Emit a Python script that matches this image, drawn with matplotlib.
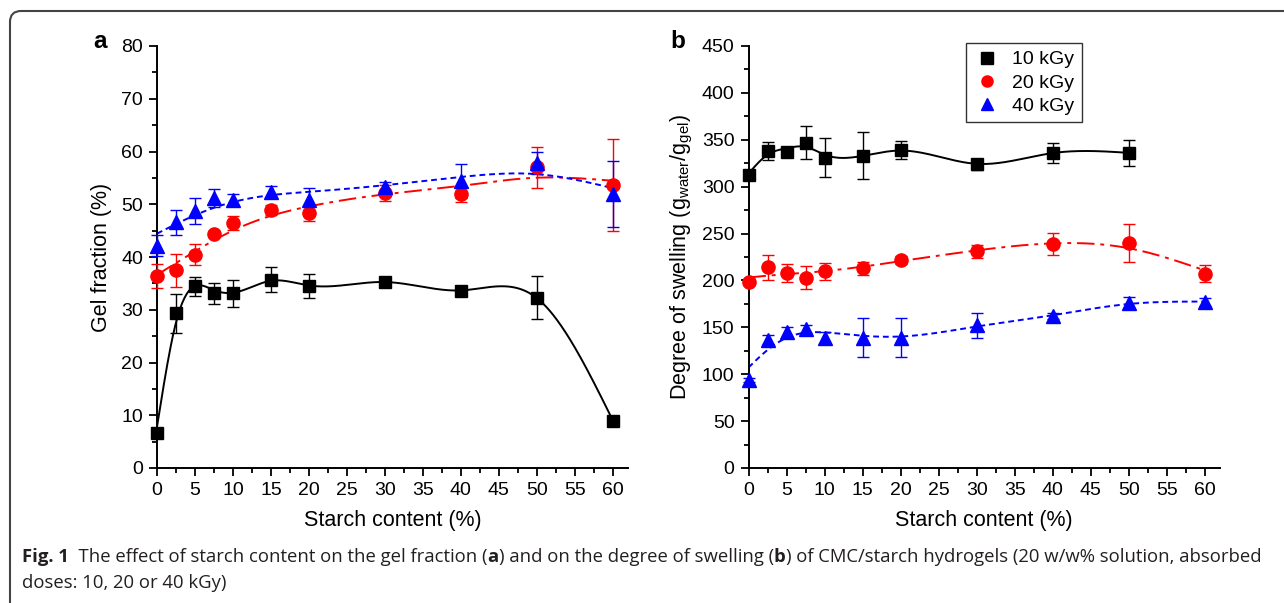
import numpy as np
import matplotlib
matplotlib.use("Agg")
import matplotlib.pyplot as plt
from matplotlib.patches import FancyBboxPatch
from matplotlib.transforms import IdentityTransform
from matplotlib.ticker import MultipleLocator
from matplotlib.lines import Line2D

plt.rcParams['font.family'] = ['Liberation Sans', 'DejaVu Sans']

# starch content (%)
starch = [0, 2.5, 5, 7.5, 10, 15, 20, 30, 40, 50, 60]
starch_b10 = [0, 2.5, 5, 7.5, 10, 15, 20, 30, 40, 50]

# (a) gel fraction (%)
gel_10 = [6.7, 29.3, 34.5, 33.1, 33.1, 35.7, 34.5, 35.3, 33.6, 32.3, 9.0]
gel_10_err = [0.3, 3.7, 1.8, 2.0, 2.6, 2.4, 2.3, 0.3, 0.5, 4.1, 0.3]
gel_20 = [36.4, 37.5, 40.4, 44.4, 46.4, 48.9, 48.3, 52.2, 51.9, 57.0, 53.6]
gel_20_err = [2.2, 3.1, 2.0, 0.5, 1.3, 1.0, 1.4, 1.5, 1.5, 3.9, 8.7]
gel_40 = [42.1, 46.6, 48.7, 51.1, 50.9, 52.3, 50.8, 53.3, 54.4, 57.9, 51.9]
gel_40_err = [2.0, 2.4, 2.4, 1.7, 1.0, 1.2, 2.3, 1.0, 3.3, 2.1, 6.3]

# (b) degree of swelling (g water / g gel)
sw_10 = [312, 338, 337, 347, 331, 333, 339, 324, 336, 336]
sw_10_err = [3, 10, 5, 18, 21, 25, 10, 6, 11, 14]
sw_20 = [198, 214, 208, 203, 210, 213, 222, 231, 239, 240, 207]
sw_20_err = [3, 13, 10, 12, 9, 7, 4, 7, 12, 20, 9]
sw_40 = [94, 137, 145, 148, 139, 139, 139, 152, 162, 176, 177]
sw_40_err = [2, 5, 5, 4, 6, 21, 21, 13, 3, 6, 4]

labels = ['10 kGy', '20 kGy', '40 kGy']


def smooth_spline(x, y, alpha, n=400):
    # Reinsch smoothing spline (natural cubic), alpha = smoothing weight
    x = np.asarray(x, float)
    y = np.asarray(y, float)
    m = len(x)
    h = np.diff(x)
    Q = np.zeros((m, m - 2))
    R = np.zeros((m - 2, m - 2))
    for j in range(1, m - 1):
        Q[j - 1, j - 1] = 1 / h[j - 1]
        Q[j, j - 1] = -1 / h[j - 1] - 1 / h[j]
        Q[j + 1, j - 1] = 1 / h[j]
        R[j - 1, j - 1] = (h[j - 1] + h[j]) / 3
        if j < m - 2:
            R[j - 1, j] = h[j] / 6
            R[j, j - 1] = h[j] / 6
    gam = np.linalg.solve(R + alpha * Q.T @ Q, Q.T @ y)
    g = y - alpha * Q @ gam
    gam = np.concatenate([[0], gam, [0]])
    xs = np.linspace(x[0], x[-1], n)
    idx = np.clip(np.searchsorted(x, xs) - 1, 0, m - 2)
    xl, xr, hh = x[idx], x[idx + 1], h[idx]
    ys = ((xs - xl) * g[idx + 1] + (xr - xs) * g[idx]) / hh \
        - (xs - xl) * (xr - xs) / 6 * ((1 + (xs - xl) / hh) * gam[idx + 1]
                                      + (1 + (xr - xs) / hh) * gam[idx])
    return xs, ys


W, H = 1284, 603
fig = plt.figure(figsize=(W / 100, H / 100), dpi=100)
ax1 = fig.add_axes([157 / W, 135 / H, 471 / W, 422 / H])
ax2 = fig.add_axes([748.5 / W, 135 / H, 471.5 / W, 422 / H])

styles = [
    dict(color='black', marker='s', ms=8, ls='-', dashes=None),
    dict(color='#ff0000', marker='o', ms=9.5, ls='-.', dashes=(9, 3, 2, 3)),
    dict(color='#0000ff', marker='^', ms=10, ls='--', dashes=(3, 2)),
]

panel_a = [(starch, gel_10, gel_10_err, 1.0),
           (starch, gel_20, gel_20_err, 250.0),
           (starch, gel_40, gel_40_err, 250.0)]
panel_b = [(starch_b10, sw_10, sw_10_err, 1.5),
           (starch, sw_20, sw_20_err, 150.0),
           (starch, sw_40, sw_40_err, 30.0)]

for ax, series in [(ax1, panel_a), (ax2, panel_b)]:
    for (x, y, e, a), st in zip(series, styles):
        xs, ys = smooth_spline(x, y, a)
        ln, = ax.plot(xs, ys, color=st['color'], lw=1.4, ls=st['ls'], zorder=2)
        if st['dashes']:
            ln.set_dashes(st['dashes'])
        ax.errorbar(x, y, yerr=e, fmt=st['marker'], ms=st['ms'], color=st['color'],
                    ecolor=st['color'], elinewidth=1, capsize=4, capthick=1,
                    zorder=3, clip_on=False)
    ax.spines['top'].set_visible(False)
    ax.spines['right'].set_visible(False)
    for s in ['left', 'bottom']:
        ax.spines[s].set_linewidth(1.4)
    ax.set_xlim(0, 62)
    ax.xaxis.set_major_locator(MultipleLocator(5))
    ax.xaxis.set_minor_locator(MultipleLocator(2.5))
    ax.set_xticks(np.arange(0, 61, 5))
    ax.tick_params(which='major', direction='out', length=6, width=1.3, labelsize=14,
                   pad=4)
    ax.tick_params(which='minor', direction='out', length=3.5, width=1.3)
    ax.set_xlabel('Starch content (%)', fontsize=15.5, labelpad=8)

ax1.set_ylim(0, 80)
ax1.yaxis.set_major_locator(MultipleLocator(10))
ax1.yaxis.set_minor_locator(MultipleLocator(5))
ax1.set_ylabel('Gel fraction (%)', fontsize=15.5, labelpad=7)

ax2.set_ylim(0, 450)
ax2.yaxis.set_major_locator(MultipleLocator(50))
ax2.yaxis.set_minor_locator(MultipleLocator(25))
ax2.set_ylabel('Degree of swelling (g$_\\mathregular{water}$/g$_\\mathregular{gel}$)',
               fontsize=15.5, labelpad=5)

handles = [Line2D([], [], ls='none', marker=st['marker'], color=st['color'], ms=8)
           for st in styles]
leg = ax2.legend(handles, labels, loc='upper left', bbox_to_anchor=(0.44, 1.03),
                 fontsize=14, frameon=True, fancybox=False, edgecolor='black',
                 handletextpad=0.6, borderpad=0.4, labelspacing=0.28, handlelength=1.4)
leg.get_frame().set_linewidth(1.0)

fig.text(100 / W, 1 - 42 / H, 'a', fontsize=17.5, fontweight='bold', ha='center', va='center')
fig.text(678 / W, 1 - 42 / H, 'b', fontsize=17.5, fontweight='bold', ha='center', va='center')

# outer frame
fig.add_artist(FancyBboxPatch((10, -30), 1400, H - 11 + 30,
                              boxstyle='round,pad=0,rounding_size=11',
                              transform=IdentityTransform(), fill=False,
                              edgecolor='#444444', lw=1.5))

# caption
renderer = fig.canvas.get_renderer()
cap_font = ['Open Sans', 'DejaVu Sans']


def caption_line(x_px, y_px, chunks):
    x = x_px
    for s, w in chunks:
        t = fig.text(x / W, 1 - y_px / H, s, fontsize=13.3, fontweight=w,
                     family=cap_font, color='#231f20', va='center')
        x += t.get_window_extent(renderer).width


caption_line(22, 557, [('Fig. 1', 'bold'),
                       ('  The effect of starch content on the gel fraction (', 'normal'),
                       ('a', 'bold'),
                       (') and on the degree of swelling (', 'normal'),
                       ('b', 'bold'),
                       (') of CMC/starch hydrogels (20 w/w% solution, absorbed', 'normal')])
caption_line(22, 583, [('doses: 10, 20 or 40 kGy)', 'normal')])

fig.savefig('out.png', dpi=100)
